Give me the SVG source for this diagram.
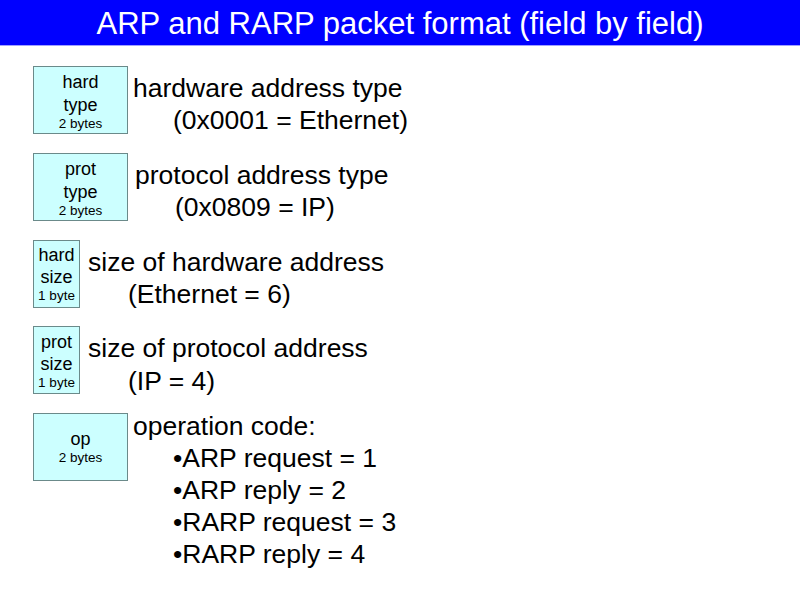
<svg xmlns="http://www.w3.org/2000/svg" width="800" height="600" viewBox="0 0 800 600">
<style>
text{font-family:"Liberation Sans",Arial,sans-serif;fill:#000}
.box{fill:#ccffff;stroke:#6b8a8a;stroke-width:1}
.bl{font-size:18px;text-anchor:middle}
.bs{font-size:13.5px;text-anchor:middle}
.d{font-size:26.5px}
.t{font-size:31px;fill:#fff;text-anchor:middle}
</style>
<rect x="0" y="0" width="800" height="600" fill="#fff"/>
<rect x="0" y="0" width="800" height="45" fill="#0000ff"/>
<line x1="0" y1="45.5" x2="800" y2="45.5" stroke="#a0a0ff" stroke-width="1"/>
<text class="t" x="400" y="34">ARP and RARP packet format (field by field)</text>
<g id="hardtype">
<rect class="box" x="33.5" y="66.5" width="94" height="67"/>
<text class="bl" x="80.5" y="88">hard</text>
<text class="bl" x="80.5" y="111">type</text>
<text class="bs" x="80.5" y="128">2 bytes</text>
<text class="d" x="133" y="97">hardware address type</text>
<text class="d" x="173" y="129">(0x0001 = Ethernet)</text>
</g>
<g id="prottype">
<rect class="box" x="33.5" y="153.5" width="94" height="67"/>
<text class="bl" x="80.5" y="175">prot</text>
<text class="bl" x="80.5" y="198">type</text>
<text class="bs" x="80.5" y="215">2 bytes</text>
<text class="d" x="135" y="184">protocol address type</text>
<text class="d" x="175" y="216">(0x0809 = IP)</text>
</g>
<g id="hardsize">
<rect class="box" x="33.5" y="240.5" width="46" height="67"/>
<text class="bl" x="56.5" y="261">hard</text>
<text class="bl" x="56.5" y="283">size</text>
<text class="bs" x="56.5" y="300">1 byte</text>
<text class="d" x="88" y="271">size of hardware address</text>
<text class="d" x="128" y="303">(Ethernet = 6)</text>
</g>
<g id="protsize">
<rect class="box" x="33.5" y="326.5" width="46" height="67"/>
<text class="bl" x="56.5" y="348">prot</text>
<text class="bl" x="56.5" y="370">size</text>
<text class="bs" x="56.5" y="387">1 byte</text>
<text class="d" x="88" y="357">size of protocol address</text>
<text class="d" x="128" y="390">(IP = 4)</text>
</g>
<g id="op">
<rect class="box" x="33.5" y="413.5" width="94" height="67"/>
<text class="bl" x="80.5" y="445">op</text>
<text class="bs" x="80.5" y="462">2 bytes</text>
<text class="d" x="133" y="435">operation code:</text>
<text class="d" x="173" y="467">•ARP request = 1</text>
<text class="d" x="173" y="499">•ARP reply = 2</text>
<text class="d" x="173" y="531">•RARP request = 3</text>
<text class="d" x="173" y="563">•RARP reply = 4</text>
</g>
<g id="connectors"/>
</svg>
